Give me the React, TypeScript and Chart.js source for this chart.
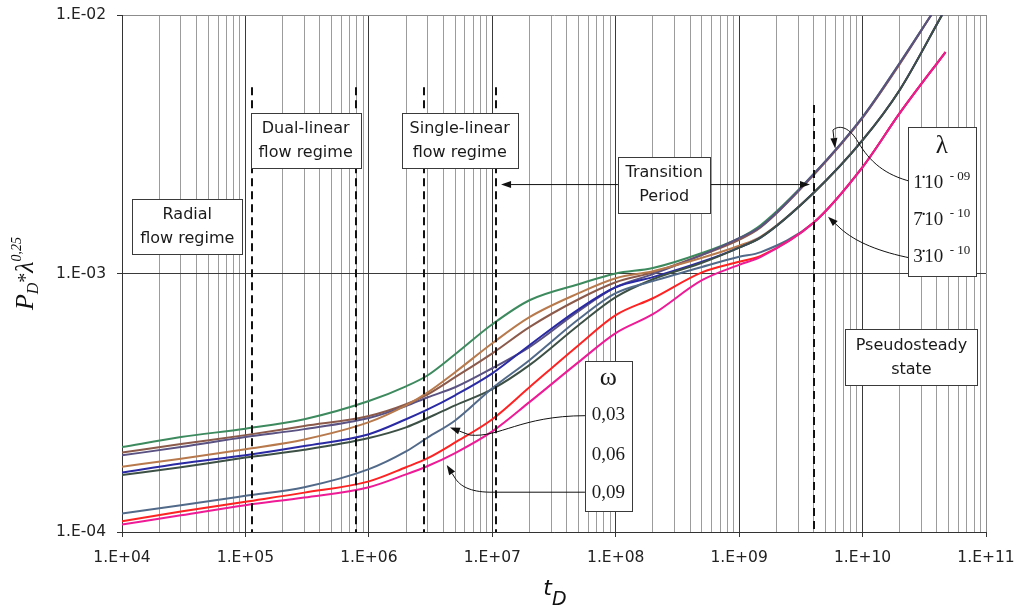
import { useEffect, useRef } from "react";
import { Chart, registerables } from "chart.js";

Chart.register(...registerables);

// ---------------- data ----------------
const tD = [1e4, 3e4, 1e5, 3e5, 1e6, 2e6, 3e6, 5e6, 1e7, 2e7, 5e7, 1e8, 2e8, 5e8, 1e9, 1.5e9, 4e9, 1e10, 2e10];
const tEndHigh = 3.6e10;
const tEndMid = 4.4e10;
const tEndLow = 4.7e10;

const seriesGreen = [2.13e-4, 2.33e-4, 2.51e-4, 2.73e-4, 3.21e-4, 3.66e-4, 4.04e-4, 4.87e-4, 6.36e-4, 7.88e-4, 9.09e-4, 1.0e-3, 1.05e-3, 1.2e-3, 1.37e-3, 1.54e-3, 2.42e-3, 4.03e-3, 6.52e-3, 1.0e-2];
const seriesBrown = [2.03e-4, 2.19e-4, 2.37e-4, 2.57e-4, 2.81e-4, 3.12e-4, 3.41e-4, 3.97e-4, 4.91e-4, 6.2e-4, 7.95e-4, 9.25e-4, 1.01e-3, 1.18e-3, 1.35e-3, 1.51e-3, 2.4e-3, 4.0e-3, 6.45e-3, 1.0e-2];
const seriesPurple = [1.98e-4, 2.13e-4, 2.33e-4, 2.5e-4, 2.76e-4, 3.07e-4, 3.32e-4, 3.63e-4, 4.3e-4, 5.19e-4, 7.15e-4, 8.85e-4, 9.94e-4, 1.18e-3, 1.37e-3, 1.52e-3, 2.42e-3, 4.03e-3, 6.52e-3, 1.0e-2];
const seriesTan = [1.79e-4, 1.92e-4, 2.09e-4, 2.28e-4, 2.66e-4, 3.09e-4, 3.47e-4, 4.15e-4, 5.37e-4, 6.78e-4, 8.39e-4, 9.59e-4, 1.02e-3, 1.15e-3, 1.28e-3, 1.39e-3, 2.05e-3, 3.28e-3, 5.13e-3, 1.0e-2];
const seriesBlue = [1.7e-4, 1.84e-4, 1.98e-4, 2.15e-4, 2.39e-4, 2.73e-4, 2.98e-4, 3.38e-4, 4.11e-4, 5.28e-4, 7.27e-4, 8.85e-4, 9.68e-4, 1.11e-3, 1.26e-3, 1.38e-3, 2.05e-3, 3.28e-3, 5.13e-3, 1.0e-2];
const seriesDarkGreen = [1.66e-4, 1.78e-4, 1.94e-4, 2.08e-4, 2.31e-4, 2.54e-4, 2.76e-4, 3.09e-4, 3.57e-4, 4.42e-4, 6.31e-4, 8.1e-4, 9.5e-4, 1.1e-3, 1.26e-3, 1.38e-3, 2.05e-3, 3.28e-3, 5.13e-3, 1.0e-2];
const seriesSlate = [1.18e-4, 1.27e-4, 1.38e-4, 1.49e-4, 1.75e-4, 2.05e-4, 2.32e-4, 2.7e-4, 3.6e-4, 4.62e-4, 6.65e-4, 8.39e-4, 9.34e-4, 1.06e-3, 1.16e-3, 1.21e-3, 1.57e-3, 2.58e-3, 4.17e-3, 7.19e-3];
const seriesRed = [1.1e-4, 1.2e-4, 1.31e-4, 1.42e-4, 1.57e-4, 1.78e-4, 1.93e-4, 2.22e-4, 2.73e-4, 3.63e-4, 5.28e-4, 6.9e-4, 8.02e-4, 1.01e-3, 1.11e-3, 1.17e-3, 1.57e-3, 2.58e-3, 4.17e-3, 7.19e-3];
const seriesMagenta = [1.07e-4, 1.16e-4, 1.27e-4, 1.36e-4, 1.49e-4, 1.67e-4, 1.8e-4, 2.02e-4, 2.45e-4, 3.18e-4, 4.54e-4, 5.88e-4, 6.96e-4, 9.42e-4, 1.08e-3, 1.16e-3, 1.57e-3, 2.58e-3, 4.17e-3, 7.19e-3];

const xTickLabels = ["1.E+04", "1.E+05", "1.E+06", "1.E+07", "1.E+08", "1.E+09", "1.E+10", "1.E+11"];
const yTickValues = [1e-4, 1e-3, 1e-2];
const yTickLabels = ["1.E-04", "1.E-03", "1.E-02"];

// regime boundaries (t_D) and the height where each dashed line starts
const regimeBoundaries = [1.14e5, 7.9e5, 2.8e6, 1.07e7, 4.07e9];
const regimeBoundaryTops = [5.26e-3, 5.26e-3, 5.26e-3, 5.26e-3, 4.49e-3];

const omegaValues = ["0,03", "0,06", "0,09"];
const lambdaMantissas = ["1·10", "7·10", "3·10"];
const lambdaExponents = ["- 09", "- 10", "- 10"];

// ---------------- annotation layout (log10 data coordinates) ----------------
const regimeBoxes = [
  { lx: 4.529, ly: -2.818, w: 110, h: 55, lines: ["Radial", "flow regime"] },
  { lx: 5.488, ly: -2.484, w: 110, h: 55, lines: ["Dual-linear", "flow regime"] },
  { lx: 6.736, ly: -2.484, w: 116, h: 55, lines: ["Single-linear", "flow regime"] },
  { lx: 8.393, ly: -2.656, w: 92, h: 56, lines: ["Transition", "Period"] },
  { lx: 10.396, ly: -3.324, w: 132, h: 56, lines: ["Pseudosteady", "state"] },
];
const lambdaBox = { lx: 10.642, ly: -2.721, w: 68, h: 149 };
const omegaBox = { lx: 7.94, ly: -3.628, w: 47, h: 150 };

type Seg = (string | number)[];
const arrows: { path: Seg[]; tip: [number, number] }[] = [
  { path: [["M", 8.018, -2.656]], tip: [7.071, -2.656] },
  { path: [["M", 8.764, -2.656]], tip: [9.574, -2.656] },
  { path: [["M", 7.751, -3.55], ["C", 7.225, -3.551, 7.062, -3.636, 6.819, -3.625]], tip: [6.657, -3.596] },
  { path: [["M", 7.751, -3.846], ["L", 6.981, -3.846], ["C", 6.819, -3.845, 6.738, -3.822, 6.698, -3.791]], tip: [6.631, -3.741] },
  { path: [["M", 10.398, -2.645], ["C", 10.182, -2.619, 10.06, -2.569, 9.963, -2.491], ["C", 9.898, -2.437, 9.817, -2.422, 9.76, -2.445]], tip: [9.777, -2.515] },
  { path: [["M", 10.398, -2.941], ["C", 10.141, -2.917, 9.939, -2.878, 9.817, -2.824]], tip: [9.72, -2.78] },
];

const SANS = '"DejaVu Sans", Verdana, sans-serif';
const SERIF = '"Liberation Serif", "Times New Roman", serif';

const isDecade = (v: number) => {
  const l = Math.log10(v);
  return Math.abs(l - Math.round(l)) < 1e-6;
};

const annotationPlugin = {
  id: "annotations",
  afterDatasetsDraw(chart: any) {
    const { ctx, chartArea } = chart;
    const xs = chart.scales.x;
    const ys = chart.scales.y;
    const X = (lx: number) => xs.getPixelForValue(Math.pow(10, lx));
    const Y = (ly: number) => ys.getPixelForValue(Math.pow(10, ly));
    ctx.save();

    // dashed regime boundaries
    ctx.strokeStyle = "#111";
    ctx.lineWidth = 2;
    ctx.setLineDash([8, 5]);
    regimeBoundaries.forEach((t, i) => {
      const px = Math.round(xs.getPixelForValue(t));
      ctx.beginPath();
      ctx.moveTo(px, ys.getPixelForValue(regimeBoundaryTops[i]));
      ctx.lineTo(px, chartArea.bottom);
      ctx.stroke();
    });
    ctx.setLineDash([]);

    // arrows
    ctx.strokeStyle = "#111";
    ctx.fillStyle = "#111";
    ctx.lineWidth = 1;
    arrows.forEach((a) => {
      ctx.beginPath();
      let last: [number, number] = [0, 0];
      a.path.forEach((s) => {
        const n = s.slice(1) as number[];
        if (s[0] === "M") {
          ctx.moveTo(X(n[0]), Y(n[1]));
          last = [n[0], n[1]];
        } else if (s[0] === "L") {
          ctx.lineTo(X(n[0]), Y(n[1]));
          last = [n[0], n[1]];
        } else {
          ctx.bezierCurveTo(X(n[0]), Y(n[1]), X(n[2]), Y(n[3]), X(n[4]), Y(n[5]));
          last = [n[4], n[5]];
        }
      });
      const tx = X(a.tip[0]);
      const ty = Y(a.tip[1]);
      const ang = Math.atan2(ty - Y(last[1]), tx - X(last[0]));
      const L = 10;
      const W = 3.5;
      const bx = tx - L * Math.cos(ang);
      const by = ty - L * Math.sin(ang);
      ctx.lineTo(bx, by);
      ctx.stroke();
      ctx.beginPath();
      ctx.moveTo(tx, ty);
      ctx.lineTo(bx + W * Math.sin(ang), by - W * Math.cos(ang));
      ctx.lineTo(bx - W * Math.sin(ang), by + W * Math.cos(ang));
      ctx.closePath();
      ctx.fill();
    });

    const drawBox = (cx: number, cy: number, w: number, h: number) => {
      const x0 = Math.round(cx - w / 2) + 0.5;
      const y0 = Math.round(cy - h / 2) + 0.5;
      ctx.fillStyle = "#ffffff";
      ctx.fillRect(x0, y0, w, h);
      ctx.strokeStyle = "#3a3a3a";
      ctx.lineWidth = 1;
      ctx.strokeRect(x0, y0, w, h);
    };

    // regime boxes
    regimeBoxes.forEach((b) => {
      const cx = X(b.lx);
      const cy = Y(b.ly);
      drawBox(cx, cy, b.w, b.h);
      ctx.fillStyle = "#1a1a1a";
      ctx.font = `16px ${SANS}`;
      ctx.textAlign = "center";
      ctx.textBaseline = "middle";
      ctx.fillText(b.lines[0], cx, cy - 11.5);
      ctx.fillText(b.lines[1], cx, cy + 12.5);
    });

    // lambda box
    {
      const cx = X(lambdaBox.lx);
      const cy = Y(lambdaBox.ly);
      drawBox(cx, cy, lambdaBox.w, lambdaBox.h);
      ctx.fillStyle = "#1a1a1a";
      ctx.textAlign = "center";
      ctx.textBaseline = "middle";
      ctx.font = `25px ${SERIF}`;
      ctx.fillText("λ", cx, cy - 55);
      const offs = [-13, 24, 61];
      lambdaMantissas.forEach((m, i) => {
        const [a, b] = m.split("·");
        ctx.font = `19px ${SERIF}`;
        const wa = ctx.measureText(a).width;
        const wb = ctx.measureText(b).width;
        ctx.font = `13px ${SERIF}`;
        const ws = ctx.measureText(lambdaExponents[i]).width;
        const total = wa + 1.5 + wb + 6.5 + ws;
        const start = cx - total / 2;
        const base = cy + offs[i];
        ctx.textAlign = "left";
        ctx.textBaseline = "alphabetic";
        ctx.font = `19px ${SERIF}`;
        ctx.fillText(a, start, base);
        ctx.fillText(b, start + wa + 1.5, base);
        ctx.textAlign = "center";
        ctx.fillText("·", start + wa + 1, base - 5);
        ctx.textAlign = "left";
        ctx.font = `13px ${SERIF}`;
        ctx.fillText(lambdaExponents[i], start + wa + 1.5 + wb + 6.5, base - 8.5);
      });
    }

    // omega box
    {
      const cx = X(omegaBox.lx);
      const cy = Y(omegaBox.ly);
      drawBox(cx, cy, omegaBox.w, omegaBox.h);
      ctx.fillStyle = "#1a1a1a";
      ctx.textAlign = "center";
      ctx.textBaseline = "middle";
      ctx.font = `26px ${SERIF}`;
      ctx.fillText("ω", cx, cy - 58);
      const offs = [-20.8, 19.2, 57.2];
      ctx.font = `19px ${SERIF}`;
      omegaValues.forEach((t, i) => ctx.fillText(t, cx, cy + offs[i]));
    }

    ctx.restore();
  },
  afterDraw(chart: any) {
    const { ctx, chartArea } = chart;
    ctx.save();
    ctx.fillStyle = "#111";
    ctx.textBaseline = "alphabetic";
    ctx.textAlign = "left";
    // x title t_D
    ctx.font = `italic 22px ${SANS}`;
    const wt = ctx.measureText("t").width;
    ctx.font = `italic 19px ${SANS}`;
    const wd = ctx.measureText("D").width;
    const cx = (chartArea.left + chartArea.right) / 2 + 1;
    const sx = cx - (wt + wd) / 2;
    ctx.font = `italic 22px ${SANS}`;
    ctx.fillText("t", sx, chartArea.bottom + 63);
    ctx.font = `italic 19px ${SANS}`;
    ctx.fillText("D", sx + wt, chartArea.bottom + 73);

    // y title  P_D * λ^0,25
    const parts = [
      { t: "P", f: `italic 26px ${SERIF}`, dv: 0 },
      { t: "D", f: `italic 16px ${SERIF}`, dv: 5 },
      { t: "*", f: `20px ${SERIF}`, dv: -1 },
      { t: "λ", f: `italic 26px ${SERIF}`, dv: 0 },
      { t: "0,25", f: `italic 14px ${SERIF}`, dv: -12 },
    ];
    let total = 0;
    const widths = parts.map((p) => {
      ctx.font = p.f;
      const w = ctx.measureText(p.t).width;
      total += w;
      return w;
    });
    ctx.translate(33, (chartArea.top + chartArea.bottom) / 2);
    ctx.rotate(-Math.PI / 2);
    let u = -total / 2;
    parts.forEach((p, i) => {
      ctx.font = p.f;
      ctx.fillText(p.t, u, p.dv);
      u += widths[i];
    });
    ctx.restore();
  },
};

const mk = (label: string, vals: number[], tEnd: number, color: string) => ({
  label,
  data: [...tD, tEnd].map((t, i) => ({ x: t, y: vals[i] })),
  borderColor: color,
  backgroundColor: color,
  borderWidth: 2,
  pointRadius: 0,
  fill: false,
  cubicInterpolationMode: "monotone" as const,
});

export default function App() {
  const ref = useRef<HTMLCanvasElement | null>(null);
  useEffect(() => {
    if (!ref.current) return;
    const chart = new Chart(ref.current, {
      type: "line",
      data: {
        datasets: [
          mk("magenta", seriesMagenta, tEndLow, "#ee1a96"),
          mk("red", seriesRed, tEndLow, "#ff2222"),
          mk("slate", seriesSlate, tEndLow, "#526a8a"),
          mk("darkgreen", seriesDarkGreen, tEndMid, "#3d5046"),
          mk("blue", seriesBlue, tEndMid, "#2a2aa4"),
          mk("tan", seriesTan, tEndMid, "#b87a4c"),
          mk("purple", seriesPurple, tEndHigh, "#5a5282"),
          mk("brown", seriesBrown, tEndHigh, "#8c5a4a"),
          mk("green", seriesGreen, tEndHigh, "#3d8a5e"),
        ],
      },
      options: {
        animation: false,
        responsive: false,
        devicePixelRatio: 1,
        layout: { padding: { left: 0, right: 32, top: 15, bottom: 0 } },
        plugins: { legend: { display: false }, tooltip: { enabled: false }, title: { display: false } },
        scales: {
          x: {
            type: "logarithmic",
            min: 1e4,
            max: 1e11,
            afterBuildTicks: (scale: any) => {
              const vals: number[] = [];
              for (let e = 4; e < 11; e++) for (let m = 1; m < 10; m++) vals.push(m * Math.pow(10, e));
              vals.push(1e11);
              scale.ticks = vals.map((v) => ({ value: v }));
            },
            afterFit: (scale: any) => {
              scale.height = 79;
              scale.paddingLeft = 0;
              scale.paddingRight = 0;
              scale.paddingTop = 0;
              scale.paddingBottom = 0;
            },
            ticks: {
              autoSkip: false,
              maxRotation: 0,
              minRotation: 0,
              padding: 12,
              color: "#222",
              font: { family: SANS, size: 15.5 },
              callback: (value: any) => {
                const v = Number(value);
                if (!isDecade(v)) return "";
                return xTickLabels[Math.round(Math.log10(v)) - 4];
              },
            },
            grid: {
              lineWidth: 1,
              tickLength: 5,
              color: (c: any) => {
                const v = c.tick ? c.tick.value : 0;
                if (!isDecade(v)) return "#9c9c9c";
                if (v > 9e10) return "#8c8c8c";
                return "#3a3a3a";
              },
              tickColor: (c: any) => {
                const v = c.tick ? c.tick.value : 0;
                return isDecade(v) ? "#333" : "rgba(0,0,0,0)";
              },
            },
            border: { color: "#333", width: 1 },
          },
          y: {
            type: "logarithmic",
            min: 1e-4,
            max: 1e-2,
            afterBuildTicks: (scale: any) => {
              scale.ticks = yTickValues.map((v) => ({ value: v }));
            },
            afterFit: (scale: any) => {
              scale.width = 122;
              scale.paddingLeft = 0;
              scale.paddingRight = 0;
              scale.paddingTop = 0;
              scale.paddingBottom = 0;
            },
            ticks: {
              autoSkip: false,
              padding: 11,
              color: "#222",
              font: { family: SANS, size: 15.5 },
              callback: (value: any) => {
                const v = Number(value);
                const i = yTickValues.findIndex((t) => Math.abs(Math.log10(t) - Math.log10(v)) < 1e-6);
                return i >= 0 ? yTickLabels[i] : "";
              },
            },
            grid: {
              lineWidth: 1,
              tickLength: 5,
              color: (c: any) => {
                const v = c.tick ? c.tick.value : 0;
                return v > 5e-3 ? "#8c8c8c" : "#3a3a3a";
              },
              tickColor: "#333",
            },
            border: { color: "#333", width: 1 },
          },
        },
      },
      plugins: [annotationPlugin],
    });
    return () => chart.destroy();
  }, []);
  return (
    <div style={{ position: "absolute", left: 0, top: 0, width: 1018, height: 611, background: "#fff" }}>
      <canvas ref={ref} width={1018} height={611} style={{ width: 1018, height: 611, display: "block" }} />
    </div>
  );
}
